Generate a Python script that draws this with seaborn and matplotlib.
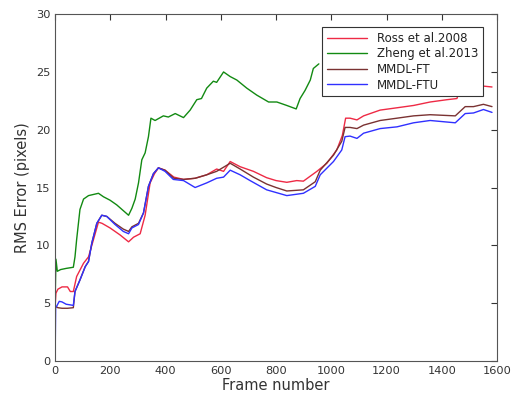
import numpy as np
import pandas as pd
import matplotlib
matplotlib.use("Agg")
import matplotlib.pyplot as plt
import seaborn as sns

series_names = ["Ross et al.2008", "Zheng et al.2013", "MMDL-FT", "MMDL-FTU"]

green_frames = [0, 3, 8, 20, 40, 66, 72, 78, 90, 103, 121, 157, 175, 199, 223, 266, 278, 290, 302, 314,
                326, 338, 347, 362, 392, 410, 435, 465, 489, 513, 530, 549, 573, 585, 610, 634, 658, 694, 730, 773,
                803, 839, 873, 887, 905, 924, 935, 955]
green_vals = [5.0, 8.8, 7.75, 7.9, 8.0, 8.1, 9.0, 10.5, 13.1, 14.0, 14.3, 14.5, 14.2, 13.9, 13.5, 12.6, 13.2, 14.0, 15.4, 17.4,
              18.0, 19.4, 21.0, 20.8, 21.2, 21.1, 21.4, 21.05, 21.7, 22.6, 22.7, 23.6, 24.2, 24.1, 25.0, 24.6, 24.3, 23.6, 23.0, 22.4,
              22.4, 22.1, 21.8, 22.7, 23.4, 24.3, 25.3, 25.7]

red_frames = [0, 3, 10, 25, 45, 55, 66, 78, 103, 121, 139, 157, 170, 199, 235, 266, 284, 308, 326, 344,
              360, 374, 398, 430, 465, 507, 549, 585, 610, 634, 670, 718, 766, 800, 839, 875, 899, 948, 984, 1020,
              1040, 1052, 1068, 1093, 1117, 1177, 1238, 1298, 1358, 1419, 1455, 1467, 1503, 1540, 1582]
red_vals = [4.7, 5.85, 6.2, 6.4, 6.4, 6.0, 6.0, 7.3, 8.45, 9.0, 10.5, 12.0, 11.9, 11.5, 10.9, 10.3, 10.7, 11.0, 12.6, 15.4,
            16.2, 16.7, 16.5, 15.9, 15.7, 15.8, 16.1, 16.6, 16.4, 17.25, 16.8, 16.4, 15.85, 15.6, 15.45, 15.6, 15.55, 16.4, 17.1, 18.25,
            19.5, 21.0, 21.0, 20.85, 21.2, 21.7, 21.9, 22.1, 22.4, 22.6, 22.7, 23.6, 23.8, 23.8, 23.7]

brown_frames = [0, 3, 10, 25, 45, 66, 72, 90, 109, 121, 133, 151, 169, 187, 217, 247, 266, 278, 302, 320,
                338, 356, 374, 398, 430, 465, 507, 549, 585, 634, 670, 718, 766, 800, 839, 899, 942, 960, 1008, 1038,
                1050, 1068, 1093, 1117, 1177, 1238, 1298, 1358, 1449, 1485, 1515, 1551, 1582]
brown_vals = [4.5, 4.7, 4.6, 4.55, 4.55, 4.6, 6.0, 7.0, 8.15, 8.6, 10.2, 11.9, 12.6, 12.5, 11.9, 11.4, 11.2, 11.6, 11.9, 12.8,
              15.1, 16.2, 16.7, 16.5, 15.8, 15.7, 15.8, 16.1, 16.4, 17.1, 16.6, 15.9, 15.3, 15.0, 14.7, 14.8, 15.5, 16.5, 17.8, 19.0,
              20.2, 20.2, 20.1, 20.4, 20.8, 21.0, 21.2, 21.3, 21.2, 22.0, 22.0, 22.2, 22.0]

blue_frames = [0, 2, 5, 15, 25, 40, 66, 72, 90, 109, 121, 133, 151, 169, 187, 217, 247, 266, 278, 302,
               320, 338, 356, 374, 398, 428, 465, 507, 549, 585, 610, 634, 670, 706, 766, 839, 899, 942, 960, 1008,
               1038, 1050, 1068, 1093, 1117, 1177, 1238, 1298, 1358, 1449, 1485, 1515, 1551, 1582]
blue_vals = [0.0, 4.7, 4.7, 5.15, 5.1, 4.9, 4.8, 6.0, 7.0, 8.15, 8.6, 10.2, 11.9, 12.6, 12.5, 11.8, 11.2, 11.0, 11.5, 11.8,
             12.8, 15.1, 16.2, 16.7, 16.4, 15.7, 15.6, 15.0, 15.4, 15.8, 15.9, 16.5, 16.1, 15.6, 14.8, 14.3, 14.5, 15.1, 16.1, 17.25,
             18.25, 19.4, 19.45, 19.25, 19.7, 20.1, 20.25, 20.6, 20.8, 20.6, 21.4, 21.45, 21.75, 21.5]

x_ticks = [0, 200, 400, 600, 800, 1000, 1200, 1400, 1600]
y_ticks = [0, 5, 10, 15, 20, 25, 30]

frames_list = [red_frames, green_frames, brown_frames, blue_frames]
vals_list = [red_vals, green_vals, brown_vals, blue_vals]
df = pd.concat([
    pd.DataFrame({"frame": f, "err": v, "method": n})
    for f, v, n in zip(frames_list, vals_list, series_names)
], ignore_index=True)

palette = {"Ross et al.2008": "#ee2a45", "Zheng et al.2013": "#128a12",
           "MMDL-FT": "#7a3232", "MMDL-FTU": "#3030ff"}

sns.set_style("white")
plt.rcParams['font.family'] = ['DejaVu Sans']

fig = plt.figure(figsize=(5.15, 4.05), dpi=100)
ax = fig.add_axes([0.107, 0.109, 0.858, 0.856])

sns.lineplot(data=df, x="frame", y="err", hue="method", hue_order=series_names,
             palette=palette, estimator=None, sort=False, linewidth=1.0, ax=ax)

ax.set_xlim(0, 1600)
ax.set_ylim(0, 30)
ax.set_xticks(x_ticks)
ax.set_yticks(y_ticks)
ax.tick_params(direction='in', top=True, right=True, length=4, width=0.8,
               color='#333333', labelcolor='#333333', labelsize=8.2)
for sp in ax.spines.values():
    sp.set_color('#555555')
    sp.set_linewidth(0.8)
ax.set_xlabel("Frame number", fontsize=10.5, color='#333333', labelpad=2)
ax.set_ylabel("RMS Error (pixels)", fontsize=10.5, color='#333333', labelpad=4)

leg = ax.legend(loc='upper right', bbox_to_anchor=(0.968, 0.963), borderaxespad=0,
                fontsize=8.5, fancybox=False, framealpha=1, edgecolor='#333333',
                handlelength=3.4, labelspacing=0.22, borderpad=0.4)
leg.get_frame().set_linewidth(0.8)
for t in leg.get_texts():
    t.set_color('#222222')

fig.savefig("out.png", dpi=100)
